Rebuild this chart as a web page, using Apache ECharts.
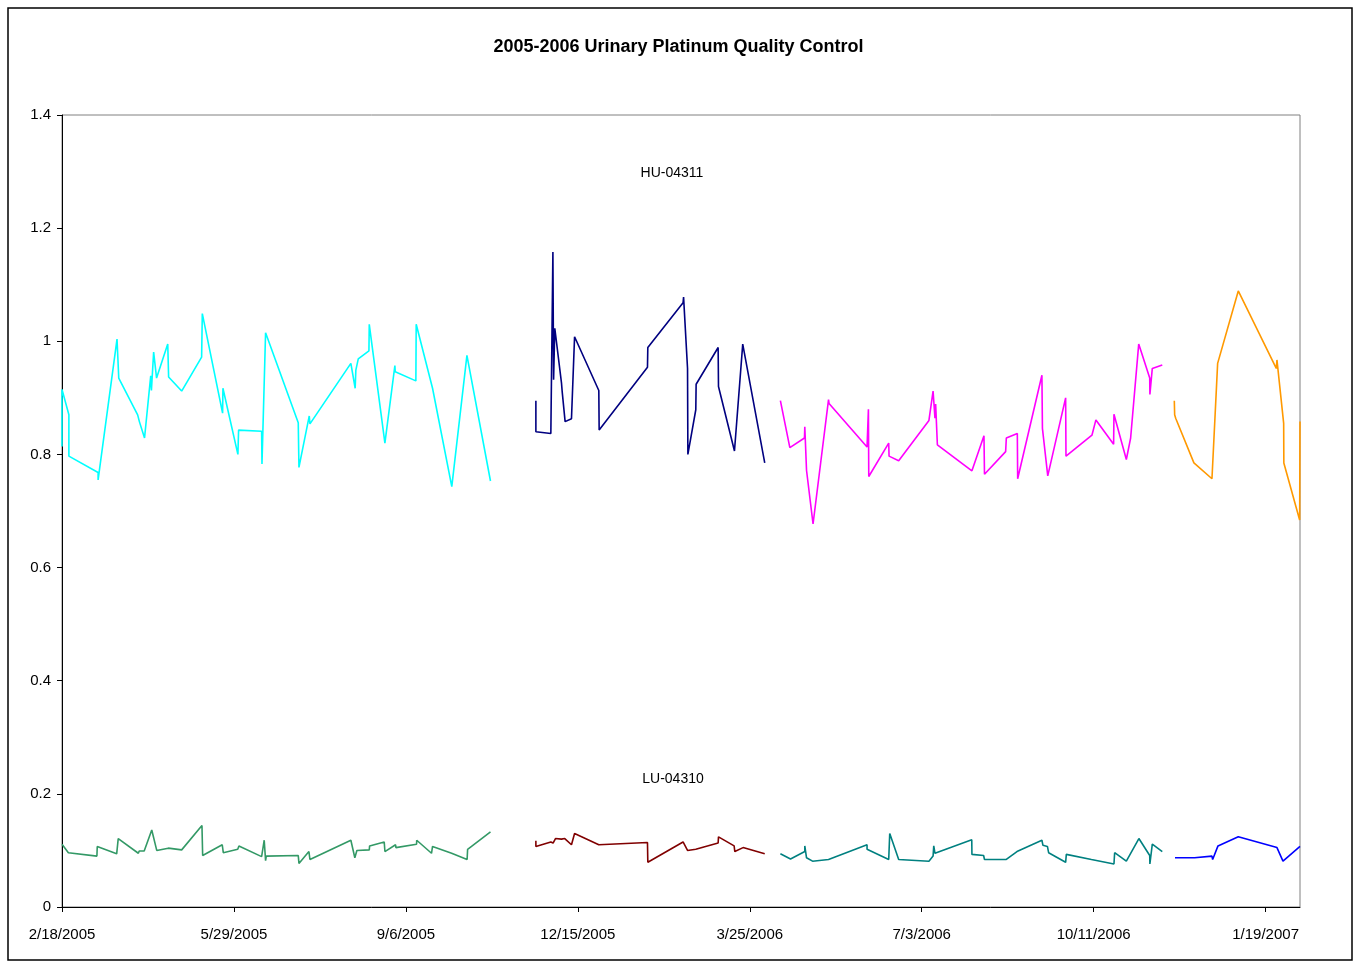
<!DOCTYPE html>
<html>
<head>
<meta charset="utf-8">
<script src="https://cdn.jsdelivr.net/npm/echarts@6/dist/echarts.min.js"></script>
<style>
html,body{margin:0;padding:0;background:#fff;}
#chart{width:1357px;height:963px;}
</style>
</head>
<body>
<div id="chart"></div>
<script>
// x values are days since 2005-02-18 (first tick of the date axis)
const BASE_DATE = Date.UTC(2005, 1, 18);
const xTickInterval = 100;
const xMaxDay = 720;
const titleText = '2005-2006 Urinary Platinum Quality Control';
const huLabel = 'HU-04311';
const luLabel = 'LU-04310';

// HU-04311 (high level control), four lots
const hu1Days = [0,0,4,4,21,21,32,33,44,45,48,51.6,52,53.3,55,61.5,62,69.6,81.2,81.6,93.4,93.6,102.3,102.7,116.1,116.3,118.4,137.4,137.8,143.8,144.2,168,170.5,170.9,172.3,178.5,178.7,187.8,193.6,193.8,205.8,206,215.5,226.7,235.5,249.2];
const hu1Vals = [0.814,0.915,0.870,0.797,0.768,0.755,1.004,0.935,0.870,0.858,0.829,0.939,0.913,0.981,0.935,0.995,0.937,0.912,0.972,1.049,0.873,0.917,0.800,0.843,0.841,0.783,1.015,0.856,0.777,0.868,0.854,0.961,0.917,0.949,0.969,0.983,1.030,0.820,0.957,0.946,0.930,1.030,0.917,0.743,0.975,0.753];

const hu2Days = [275.6,275.6,284.3,285.5,285.9,286.6,290.5,290.9,292.6,296.3,298.1,312.2,312.4,340.5,340.7,361.2,361.5,363.8,364,368.6,368.8,381.6,381.8,391.1,395.9,408.7];
const hu2Vals = [0.895,0.840,0.837,1.158,0.932,1.023,0.926,0.911,0.858,0.863,1.008,0.913,0.843,0.954,0.989,1.068,1.078,0.952,0.800,0.879,0.924,0.989,0.920,0.806,0.995,0.785];

const hu3Days = [417.8,423.3,431.8,432,433,436.8,445.8,446.1,468.2,469,469.2,480.8,481,486.6,504.2,506.6,507.7,508.1,509.1,529.2,536.2,536.5,548.8,549.2,555.6,555.8,569.9,570.2,573.3,583.7,583.9,599,601.3,611.6,611.8,619,621.5,626.2,632.6,632.7,634.1,639.9];
const hu3Vals = [0.895,0.812,0.829,0.849,0.772,0.677,0.897,0.890,0.813,0.880,0.761,0.820,0.797,0.789,0.860,0.912,0.864,0.889,0.817,0.771,0.833,0.765,0.805,0.829,0.837,0.757,0.940,0.846,0.762,0.900,0.797,0.834,0.861,0.818,0.871,0.791,0.829,0.995,0.935,0.906,0.952,0.958];

const hu4Days = [646.9,647.1,647.7,658.3,668.8,672.1,684.1,706.2,706.6,710.5,710.6,719.8,720];
const hu4Vals = [0.895,0.870,0.864,0.785,0.757,0.961,1.089,0.952,0.967,0.855,0.785,0.684,0.858];

// LU-04310 (low level control), four lots
const lu1Days = [0,3.7,20.3,20.5,31.8,32.7,44.4,44.9,47.8,52.2,55.1,61.8,69.6,81.4,81.8,93.2,93.8,102.2,102.9,116.1,117.6,118.4,118.8,137.4,137.8,143.6,144.2,168,170.3,171.5,178.7,178.9,187.4,187.8,194,194.2,206.2,206.3,214.9,215.5,226.6,235.6,235.9,249.2];
const lu1Vals = [0.111,0.096,0.090,0.107,0.094,0.121,0.095,0.099,0.099,0.136,0.100,0.104,0.101,0.144,0.091,0.110,0.096,0.102,0.108,0.089,0.118,0.082,0.090,0.091,0.077,0.098,0.084,0.118,0.087,0.100,0.101,0.108,0.115,0.098,0.110,0.105,0.111,0.118,0.095,0.107,0.095,0.084,0.102,0.133];

const lu2Days = [275.6,275.6,284.3,285.6,287,290.5,292.4,296.3,298.1,312.2,312.6,340.5,340.7,361.2,363.8,364.1,368.6,369,381.6,381.8,390.9,391.3,396.1,408.7];
const lu2Vals = [0.117,0.107,0.115,0.113,0.121,0.120,0.121,0.110,0.130,0.110,0.108,0.114,0.079,0.115,0.100,0.102,0.102,0.105,0.113,0.124,0.108,0.098,0.105,0.094];

const lu3Days = [417.8,423.7,432,432,433,436.5,437,445.8,446.1,468.2,468.2,469,480.8,481.4,486.6,504.2,506.6,507,507.7,508.5,529.1,529.2,536,536.5,549.2,555.4,569.9,570.5,573.1,573.8,583.7,584.1,598.7,611.8,612.2,619,626.3,632.6,632.7,634.1,639.9];
const lu3Vals = [0.094,0.085,0.098,0.108,0.087,0.081,0.084,0.084,0.087,0.110,0.102,0.104,0.084,0.130,0.084,0.081,0.090,0.108,0.095,0.098,0.119,0.093,0.091,0.084,0.084,0.098,0.118,0.109,0.107,0.096,0.079,0.093,0.084,0.076,0.096,0.081,0.121,0.091,0.076,0.111,0.098];

const lu4Days = [647.3,647.7,658.7,668.8,669.2,672.3,684.1,706.6,710.1,720];
const lu4Vals = [0.087,0.090,0.087,0.090,0.084,0.108,0.124,0.105,0.081,0.107];

const yTicks = {min: 0, max: 1.4, interval: 0.2};

function pairs(days, vals) { return days.map((d, i) => [d, vals[i]]); }
function fmtDate(d) {
  const dt = new Date(BASE_DATE + d * 86400000);
  return (dt.getUTCMonth() + 1) + '/' + dt.getUTCDate() + '/' + dt.getUTCFullYear();
}
function lineSeries(days, vals, color) {
  return {
    type: 'line', data: pairs(days, vals), showSymbol: false, symbol: 'none',
    lineStyle: {color: color, width: 1.6}, itemStyle: {color: color},
    animation: false, silent: true, clip: false
  };
}

const FONT = '"Liberation Sans", Arial, sans-serif';
const chart = echarts.init(document.getElementById('chart'), null, {renderer: 'canvas'});
chart.setOption({
  backgroundColor: '#ffffff',
  animation: false,
  title: {
    text: titleText, left: 'center', top: 33,
    textStyle: {fontFamily: FONT, fontSize: 18, fontWeight: 'bold', color: '#000'}
  },
  grid: {left: 62, top: 115, right: 57, bottom: 56, show: true, borderColor: '#808080', borderWidth: 1, backgroundColor: 'transparent'},
  xAxis: {
    type: 'value', min: 0, max: xMaxDay, interval: xTickInterval,
    splitLine: {show: false},
    axisLine: {show: true, onZero: false, lineStyle: {color: '#000', width: 1}},
    axisTick: {show: true, inside: false, length: 5, lineStyle: {color: '#000'}},
    axisLabel: {
      margin: 20, color: '#000', fontFamily: FONT, fontSize: 15, showMaxLabel: false,
      formatter: v => (Math.round(v) % xTickInterval === 0 ? fmtDate(v) : '')
    }
  },
  yAxis: {
    type: 'value', min: yTicks.min, max: yTicks.max, interval: yTicks.interval,
    splitLine: {show: false},
    axisLine: {show: true, onZero: false, lineStyle: {color: '#000', width: 1}},
    axisTick: {show: true, inside: false, length: 5, lineStyle: {color: '#000'}},
    axisLabel: {
      margin: 11, color: '#000', fontFamily: FONT, fontSize: 15,
      formatter: v => String(Math.round(v * 10) / 10)
    }
  },
  graphic: [
    {type: 'rect', shape: {x: 8, y: 8, width: 1344, height: 952}, style: {fill: 'none', stroke: '#000', lineWidth: 1.5}, silent: true, z: -1},
    {type: 'text', x: 672, y: 173, style: {text: huLabel, font: '14px ' + FONT, fill: '#000', textAlign: 'center', textVerticalAlign: 'middle'}},
    {type: 'text', x: 673, y: 779, style: {text: luLabel, font: '14px ' + FONT, fill: '#000', textAlign: 'center', textVerticalAlign: 'middle'}}
  ],
  series: [
    lineSeries(hu1Days, hu1Vals, '#00FFFF'),
    lineSeries(hu2Days, hu2Vals, '#000080'),
    lineSeries(hu3Days, hu3Vals, '#FF00FF'),
    lineSeries(hu4Days, hu4Vals, '#FF9900'),
    lineSeries(lu1Days, lu1Vals, '#339966'),
    lineSeries(lu2Days, lu2Vals, '#800000'),
    lineSeries(lu3Days, lu3Vals, '#008080'),
    lineSeries(lu4Days, lu4Vals, '#0000FF')
  ]
});
</script>
</body>
</html>
